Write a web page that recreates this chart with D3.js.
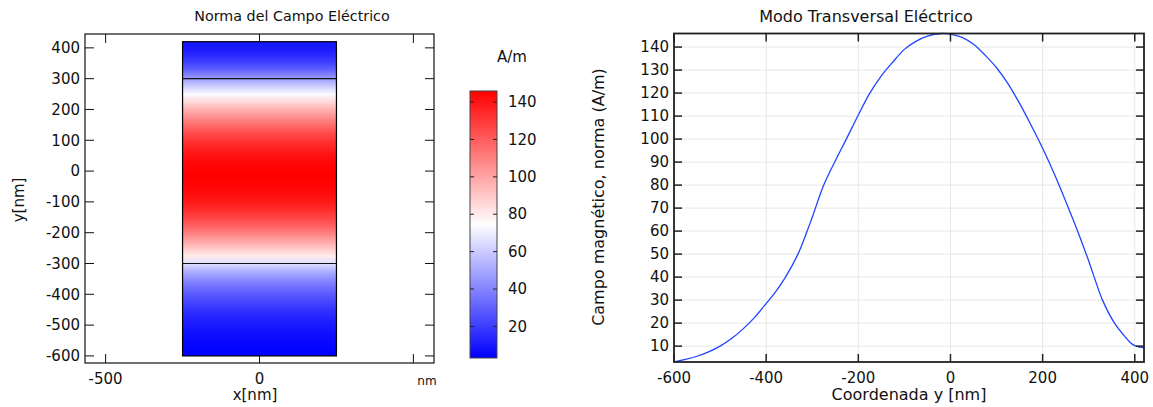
<!DOCTYPE html>
<html><head><meta charset="utf-8">
<script src="https://cdn.jsdelivr.net/npm/d3@7"></script>
<style>
html,body{margin:0;padding:0;background:#fff;}
text{font-family:"DejaVu Sans",sans-serif;fill:#111;}
</style></head>
<body>
<svg id="c" width="1153" height="407"></svg>
<script>
// ---- data ----
const yCoord = [-600,-575,-550,-525,-500,-475,-450,-425,-400,-380,-358,-331,-311,-300,-275,-250,-226,-200,-175,-150,-125,-100,-75,-50,-19,0,25,50,75,100,125,150,175,200,225,250,275,300,312,330,356,380,390,400,410,420];
const fieldNorm = [3.1,4.2,5.6,7.5,10,13.3,17.5,22.5,28.5,33.5,40,50,60,66,80,90.5,100,110.5,120,127.5,133.5,139,142.5,144.8,145.9,145.6,144.2,141.2,136.5,131,124,115.5,106,96,85,73,60.5,47,40,30,20,13.8,11.6,10.2,9.6,9.4];
const leftXTicks = [-500,0,500];
const leftYTicks = [400,300,200,100,0,-100,-200,-300,-400,-500,-600];
const cbTicks = [20,40,60,80,100,120,140];
const rightXTicks = [-600,-400,-200,0,200,400];
const rightYTicks = [10,20,30,40,50,60,70,80,90,100,110,120,130,140];
const waveguideX = [-250,250];
const waveguideY = [-600,420];
const interfaces = [300,-300];

const svg = d3.select("#c");
const vMin = d3.min(fieldNorm), vMax = d3.max(fieldNorm);
const color = d3.scaleLinear().domain([vMin,(vMin+vMax)/2,vMax]).range(["#0000ff","#ffffff","#ff0000"]);

// ---------- Left panel ----------
const L = {l:85,r:434,t:34,b:363};
const lx = d3.scaleLinear().domain([-567,567]).range([L.l,L.r]);
const ly = d3.scaleLinear().domain([-623,445]).range([L.b,L.t]);
const defs = svg.append("defs");

const g1 = defs.append("linearGradient").attr("id","fieldGrad")
  .attr("gradientUnits","userSpaceOnUse").attr("x1",0).attr("x2",0)
  .attr("y1",ly(waveguideY[0])).attr("y2",ly(waveguideY[1]));
yCoord.forEach((y,i)=>{
  g1.append("stop").attr("offset",(y-waveguideY[0])/(waveguideY[1]-waveguideY[0]))
    .attr("stop-color",color(fieldNorm[i]));
});
svg.append("rect").attr("x",lx(waveguideX[0])).attr("y",ly(waveguideY[1]))
  .attr("width",lx(waveguideX[1])-lx(waveguideX[0])).attr("height",ly(waveguideY[0])-ly(waveguideY[1]))
  .attr("fill","url(#fieldGrad)").attr("stroke","#000").attr("stroke-width",1.2);
interfaces.forEach(y=>{
  svg.append("line").attr("x1",lx(waveguideX[0])).attr("x2",lx(waveguideX[1]))
    .attr("y1",ly(y)).attr("y2",ly(y)).attr("stroke","#111").attr("stroke-width",1.2);
});
svg.append("rect").attr("x",L.l).attr("y",L.t).attr("width",L.r-L.l).attr("height",L.b-L.t)
  .attr("fill","none").attr("stroke","#111").attr("stroke-width",1.2);
const tk = 9;
leftYTicks.forEach(v=>{
  const y = ly(v);
  svg.append("line").attr("x1",L.l).attr("x2",L.l+tk).attr("y1",y).attr("y2",y).attr("stroke","#111");
  svg.append("line").attr("x1",L.r).attr("x2",L.r-tk).attr("y1",y).attr("y2",y).attr("stroke","#111");
  svg.append("text").attr("x",L.l-5).attr("y",y).attr("dy","0.35em").attr("text-anchor","end")
    .attr("font-size",15).text(v);
});
leftXTicks.forEach(v=>{
  const x = lx(v);
  svg.append("line").attr("x1",x).attr("x2",x).attr("y1",L.b).attr("y2",L.b-tk).attr("stroke","#111");
  svg.append("line").attr("x1",x).attr("x2",x).attr("y1",L.t).attr("y2",L.t+tk).attr("stroke","#111");
  if (v!==500) svg.append("text").attr("x",x).attr("y",379).attr("dy","0.35em").attr("text-anchor","middle")
    .attr("font-size",15).text(v);
});
svg.append("text").attr("x",427).attr("y",381).attr("dy","0.35em").attr("text-anchor","middle").attr("font-size",12).text("nm");
svg.append("text").attr("x",255).attr("y",395).attr("dy","0.35em").attr("text-anchor","middle").attr("font-size",15).text("x[nm]");
svg.append("text").attr("transform","translate(19,200) rotate(-90)").attr("dy","0.35em").attr("text-anchor","middle").attr("font-size",15).text("y[nm]");
svg.append("text").attr("x",292).attr("y",16).attr("dy","0.35em").attr("text-anchor","middle").attr("font-size",14.3).text("Norma del Campo Eléctrico");

// ---------- Colorbar ----------
const CB = {l:470,r:497,t:91,b:358};
const cy = d3.scaleLinear().domain([vMin,vMax]).range([CB.b,CB.t]);
const g2 = defs.append("linearGradient").attr("id","cbGrad").attr("x1",0).attr("x2",0).attr("y1",1).attr("y2",0);
color.domain().forEach(v=>{
  g2.append("stop").attr("offset",(v-vMin)/(vMax-vMin)).attr("stop-color",color(v));
});
svg.append("rect").attr("x",CB.l).attr("y",CB.t).attr("width",CB.r-CB.l).attr("height",CB.b-CB.t)
  .attr("fill","url(#cbGrad)").attr("stroke","#444").attr("stroke-width",1);
cbTicks.forEach(v=>{
  const y = cy(v);
  svg.append("line").attr("x1",CB.l).attr("x2",CB.l+4).attr("y1",y).attr("y2",y).attr("stroke","#222");
  svg.append("line").attr("x1",CB.r).attr("x2",CB.r-4).attr("y1",y).attr("y2",y).attr("stroke","#222");
  svg.append("text").attr("x",508).attr("y",y).attr("dy","0.35em").attr("font-size",15).text(v);
});
svg.append("text").attr("x",512).attr("y",57).attr("dy","0.35em").attr("text-anchor","middle").attr("font-size",15).text("A/m");

// ---------- Right panel ----------
const R = {l:674,r:1144,t:33.5,b:362};
const rx = d3.scaleLinear().domain(d3.extent(yCoord)).range([R.l,R.r]);
const ry = d3.scaleLinear().domain([vMin,vMax]).range([R.b,R.t]);
rightYTicks.forEach(v=>{
  svg.append("line").attr("x1",R.l).attr("x2",R.r).attr("y1",ry(v)).attr("y2",ry(v)).attr("stroke","#e6e6e6").attr("stroke-width",1);
});
rightXTicks.forEach(v=>{
  svg.append("line").attr("x1",rx(v)).attr("x2",rx(v)).attr("y1",R.t).attr("y2",R.b).attr("stroke","#e6e6e6").attr("stroke-width",1);
});
svg.append("path").datum(yCoord.map((y,i)=>[y,fieldNorm[i]]))
  .attr("d",d3.line().x(d=>rx(d[0])).y(d=>ry(d[1])).curve(d3.curveCatmullRom.alpha(0.5)))
  .attr("fill","none").attr("stroke","#2244ff").attr("stroke-width",1.3);
svg.append("rect").attr("x",R.l).attr("y",R.t).attr("width",R.r-R.l).attr("height",R.b-R.t)
  .attr("fill","none").attr("stroke","#222").attr("stroke-width",1.8);
rightYTicks.forEach(v=>{
  const y = ry(v);
  svg.append("line").attr("x1",R.l).attr("x2",R.l+8).attr("y1",y).attr("y2",y).attr("stroke","#222").attr("stroke-width",1.5);
  svg.append("line").attr("x1",R.r).attr("x2",R.r-8).attr("y1",y).attr("y2",y).attr("stroke","#222").attr("stroke-width",1.5);
  svg.append("text").attr("x",R.l-5).attr("y",y).attr("dy","0.35em").attr("text-anchor","end").attr("font-size",15).text(v);
});
rightXTicks.forEach(v=>{
  const x = rx(v);
  svg.append("line").attr("x1",x).attr("x2",x).attr("y1",R.b).attr("y2",R.b-8).attr("stroke","#222").attr("stroke-width",1.5);
  svg.append("line").attr("x1",x).attr("x2",x).attr("y1",R.t).attr("y2",R.t+8).attr("stroke","#222").attr("stroke-width",1.5);
  svg.append("text").attr("x",x).attr("y",378).attr("dy","0.35em").attr("text-anchor","middle").attr("font-size",15).text(v);
});
svg.append("text").attr("x",909).attr("y",394).attr("dy","0.35em").attr("text-anchor","middle").attr("font-size",16).text("Coordenada y [nm]");
svg.append("text").attr("transform","translate(598,197) rotate(-90)").attr("dy","0.35em").attr("text-anchor","middle").attr("font-size",16).text("Campo magnético, norma (A/m)");
svg.append("text").attr("x",866).attr("y",16).attr("dy","0.35em").attr("text-anchor","middle").attr("font-size",16).text("Modo Transversal Eléctrico");
</script>
</body></html>
